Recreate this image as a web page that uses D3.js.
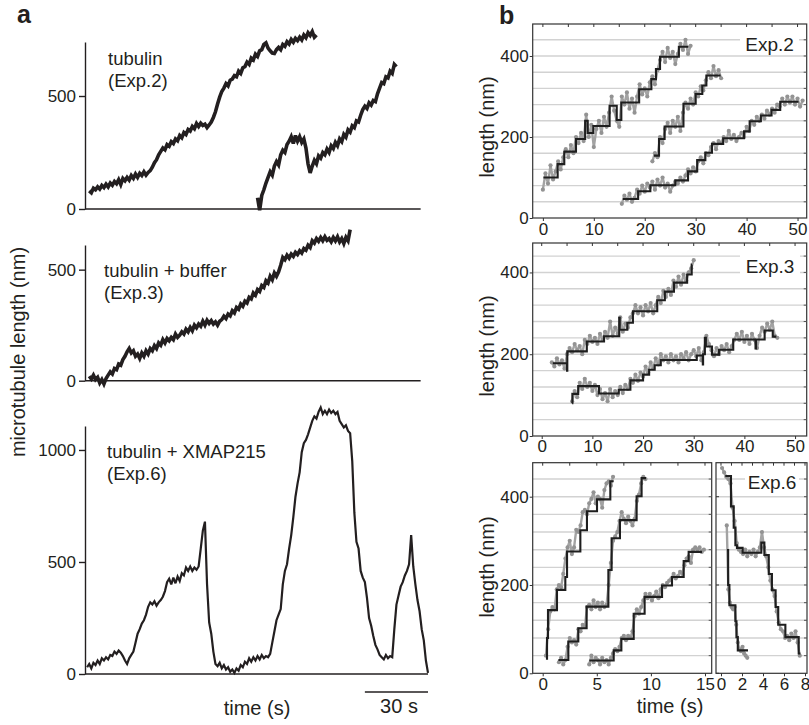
<!DOCTYPE html>
<html><head><meta charset="utf-8">
<script src="https://cdn.jsdelivr.net/npm/d3@7"></script>
<style>
body{margin:0;background:#fff}
svg{display:block}
text{font-family:"Liberation Sans",Arial,Helvetica,sans-serif;fill:#231f20}
</style>
</head><body>
<svg id="c" width="809" height="725"></svg>
<script>
// ---------------- DATA ----------------
// Panel a: microtubule length traces (nm), sampled every 1 s from a start time
const aTrace1Start = 2;
const aTrace1 = [80,72,92,85,98,88,104,95,110,98,115,105,122,112,130,108,135,125,140,128,148,136,155,140,158,148,165,150,162,170,185,205,218,240,255,270,262,285,278,298,290,310,302,325,315,338,330,352,345,365,355,378,365,380,370,375,360,372,385,405,430,465,495,520,535,555,545,570,575,590,585,610,600,625,630,650,640,668,660,685,675,700,705,728,735,712,700,690,688,705,715,705,728,720,740,730,750,738,755,745,760,748,770,758,780,768,785,760,770];
const aTrace2Start = 82;
const aTrace2 = [50,-5,60,85,115,140,165,150,190,210,195,240,260,250,285,300,320,290,325,300,320,295,310,270,200,160,190,215,200,235,225,250,240,265,250,280,268,295,280,310,298,330,318,350,340,368,360,390,385,415,440,455,445,470,460,480,475,510,535,560,555,585,580,610,600,640,630];
const aTrace3Start = 2;
const aTrace3 = [20,8,25,5,15,-10,5,-15,10,25,40,30,55,50,75,70,95,110,130,145,125,135,110,120,100,125,110,135,120,145,135,158,145,170,160,185,170,190,180,195,185,210,195,205,220,210,232,220,240,225,250,238,255,245,268,250,272,258,270,255,265,250,268,275,290,280,300,292,315,305,330,322,345,335,358,350,375,368,395,385,410,402,428,420,450,440,470,455,485,470,490,520,555,545,565,552,570,560,578,568,585,575,595,588,610,600,630,620,640,628,645,630,648,632,640,625,645,630,648,625,640,618,645,630,680];
const aTrace4Start = 1;
const aTrace4 = [30,45,25,50,40,60,45,70,60,75,65,85,80,100,90,105,95,80,60,45,70,85,100,140,180,200,225,240,265,300,320,310,325,305,320,330,345,370,410,425,400,430,405,435,415,450,440,475,460,480,460,475,465,480,560,640,680,400,230,180,100,45,35,50,25,40,20,30,10,20,5,25,15,40,30,55,45,70,55,75,60,80,65,85,70,80,75,90,140,190,240,265,290,400,460,490,560,620,700,790,850,900,990,1030,1045,1070,1100,1130,1150,1140,1170,1190,1160,1175,1160,1180,1165,1175,1160,1170,1130,1115,1100,1110,1085,1075,950,720,590,560,460,430,410,340,250,215,170,130,110,85,75,65,85,70,80,75,200,310,350,390,410,440,460,490,620,480,400,330,280,200,150,60,5];
const aDt = 1;
const aLabels = [["tubulin","(Exp.2)"],["tubulin + buffer","(Exp.3)"],["tubulin + XMAP215","(Exp.6)"]];
const aYTicks = [[0,500],[0,500],[0,500,1000]];
const aScaleBarSec = 30;

// Panel b: raw (gray) samples [start, step, values] and fitted steps [time, level]
const gB2a = [0,0.5,[70,110,85,130,95,115,140,120,150,170,150,180,160,200,185,210,190,255,200,230,175,220,240,210,250,225,260,300,265,240,225,300,280,310,270,295,260,300,330,305,320,300,335,350,330,365,390,410,385,420,395,410,380,405,430,415,440,405,425]];
const gB2b = [21.5,0.5,[140,160,150,200,185,220,235,210,240,225,250,215,260,285,270,295,280,310,300,325,315,340,360,345,375,350,365,345]];
const gB2c = [15.5,0.5,[35,55,45,60,40,50,70,60,80,65,85,75,90,70,95,80,100,75,85,65,80,90,85,100,90,105,120,110,125,115,140,150,135,160,155,175,185,170,190,185,200,190,215,195,205,190,200,210,200,225,215,240,230,250,240,255,245,265,255,270,260,280,275,295,280,300,285,300,280,295,275,290]];
const sB2a = [[0.1,100],[2.9,133],[4.2,164],[6.5,195],[8.3,240],[8.8,210],[9.9,227],[13.1,277],[14.5,242],[15.4,285],[18.9,318],[21.3,343],[22.2,368],[23.0,398],[26.7,423],[28.6,423]];
const sB2b = [[21.8,154],[22.8,195],[23.9,226],[27.6,282],[30.0,306],[31.3,327],[32.1,352],[34.9,352]];
const sB2c = [[15.7,47],[18.7,66],[21.1,81],[26.0,93],[28.5,115],[30.3,143],[31.9,161],[33.2,183],[35.4,197],[39.5,214],[40.6,239],[42.8,253],[44.9,267],[46.6,287],[50.2,287]];

const gB3a = [2,0.5,[180,170,190,175,185,165,200,215,205,225,210,220,200,235,225,245,230,240,225,250,235,255,240,280,245,265,250,290,255,275,265,290,300,320,300,315,295,320,305,325,300,320,340,325,355,340,360,345,380,365,390,370,395,380,400,410,430]];
const gB3b = [6,0.5,[85,110,95,130,115,140,120,130,110,125,100,115,90,105,85,115,95,110,100,120,105,125,115,140,130,150,135,155,145,170,155,180,165,190,175,200,185,195,180,200,185,195,180,200,190,205,185,200,210,195,215,185,205,245,225,210,195,215,200,220,210,225,205,220,235,250,235,255,230,245,225,250,235,215,245,265,255,275,260,280,245,240]];
const sB3a = [[2.2,178],[5.0,160],[5.05,207],[8.9,231],[12.3,244],[15.3,289],[15.4,260],[16.9,277],[18.0,305],[22.8,332],[24.3,353],[26.1,375],[28.7,395],[29.6,419],[29.7,419]];
const sB3b = [[6.0,80],[6.05,103],[7.2,122],[11.3,104],[15.2,113],[17.5,136],[20.0,150],[21.2,162],[22.3,173],[23.5,186],[30.6,197],[31.8,175],[31.85,200],[32.2,240],[32.4,219],[33.6,199],[35.0,211],[37.8,236],[42.2,214],[42.3,236],[44.0,258],[45.6,243],[46.3,243]];

const gB6a = [0.3,0.2,[40,100,140,150,145,190,200,195,225,260,285,300,270,285,325,320,335,365,370,360,385,395,410,385,400,395,375,415,430,435,425,445]];
const gB6b = [1.5,0.2,[25,35,20,30,60,80,70,75,65,100,95,110,105,150,155,145,165,150,160,145,160,150,155,200,250,300,310,320,345,365,350,340,355,345,335,350,390,405,430,445,440]];
const gB6c = [4.3,0.2,[20,40,25,35,30,20,35,25,30,20,35,45,55,50,60,80,85,75,85,80,95,130,145,135,150,165,180,170,180,165,175,185,170,190,200,195,205,210,215,225,215,220,230,225,245,260,265,250,280,285,280,285,275,280]];
const sB6a = [[0.3,33],[0.4,80],[0.49,143],[1.32,189],[2.09,218],[2.25,276],[3.48,324],[4.09,367],[5.02,394],[6.25,435],[6.56,435]];
const sB6b = [[1.45,30],[2.37,72],[3.29,102],[4.06,151],[6.07,234],[6.37,306],[7.14,347],[8.68,401],[9.14,442],[9.55,442]];
const sB6c = [[4.31,29],[6.56,52],[7.27,78],[8.41,135],[9.42,173],[11.03,199],[11.95,218],[13.03,254],[13.49,275],[14.72,275]];

const gB6d = [0.1,0.2,[465,455,445,440,430,375,345,295,280,275,270,280,265,275,270,280,265,275,285,320,285,265,240,210,190,175,140,115,100,95,80,85,75,90,80,95,70,40]];
const gB6e = [0.55,0.15,[335,190,160,150,145,150,110,70,55,50,60,45,40,35]];
const sB6d = [[0.41,447],[0.95,378],[1.21,330],[1.37,290],[1.52,284],[2.06,273],[3.84,296],[4.13,268],[4.55,225],[4.85,188],[5.2,150],[5.45,110],[6.13,82],[7.4,45],[7.56,45]];
const sB6e = [[0.57,279],[0.68,200],[0.8,154],[1.37,118],[1.47,82],[1.6,52],[2.57,52]];

const bXTicks = [[0,10,20,30,40,50],[0,10,20,30,40,50],[0,5,10,15],[0,2,4,6,8]];
const bYTicks = [0,200,400];
const bGrid = [40,80,120,160,200,240,280,320,360,400,440];
const bExp = ["Exp.2","Exp.3","Exp.6"];

// ---------------- DRAW ----------------
const ink = "#231f20";
const FF = '"Liberation Sans",Arial,sans-serif';
const svg = d3.select("#c");
const toPts = (t0, dt, vals) => vals.map((v,i)=>({t:t0+i*dt, v}));

// ---- panel a ----
svg.append("text").attr("x",17).attr("y",23).attr("font-size",25).attr("font-weight","bold").text("a");
const xA = d3.scaleLinear().domain([0,163]).range([85,428]);
const aPanels = [
  {y:d3.scaleLinear().domain([0,739]).range([209,42]), xEnd:159.5, traces:[[aTrace1Start,aTrace1],[aTrace2Start,aTrace2]], lx:108, ly:65, sw:3.6},
  {y:d3.scaleLinear().domain([0,611]).range([380.7,245]), xEnd:159.5, traces:[[aTrace3Start,aTrace3]], lx:104, ly:277, sw:3.6},
  {y:d3.scaleLinear().domain([0,1107]).range([674,426]), xEnd:163, traces:[[aTrace4Start,aTrace4]], lx:107, ly:458, sw:2.2}
];
aPanels.forEach((p,i)=>{
  const g = svg.append("g");
  const ax = g.append("g").attr("transform","translate(85,0)")
    .call(d3.axisLeft(p.y).tickValues(aYTicks[i]).tickFormat(d3.format("d")).tickSize(6).tickPadding(3).tickSizeOuter(0));
  ax.selectAll("path,line").attr("stroke",ink).attr("stroke-width",1.4);
  ax.selectAll("text").attr("font-size",17).attr("fill",ink).style("font-family",FF);
  g.append("line").attr("x1",xA(0)).attr("x2",xA(p.xEnd)).attr("y1",p.y(0)).attr("y2",p.y(0))
    .attr("stroke",ink).attr("stroke-width",1.4);
  const line = d3.line().x(d=>xA(d.t)).y(d=>p.y(d.v));
  p.traces.forEach(([t0,vals])=>{
    g.append("path").datum(toPts(t0,aDt,vals)).attr("d",line).attr("fill","none")
      .attr("stroke",ink).attr("stroke-width",p.sw).attr("stroke-linejoin","miter").attr("stroke-miterlimit",3);
  });
  aLabels[i].forEach((s,k)=>{
    g.append("text").attr("x",p.lx).attr("y",p.ly+k*21.5).attr("font-size",18.5).text(s);
  });
});
svg.append("text").attr("transform","translate(25,352) rotate(-90)").attr("text-anchor","middle")
  .attr("font-size",20).text("microtubule length (nm)");
svg.append("text").attr("x",257).attr("y",715).attr("text-anchor","middle").attr("font-size",20).text("time (s)");
svg.append("line").attr("x1",xA(163)-(xA(aScaleBarSec)-xA(0))).attr("x2",xA(163)).attr("y1",692).attr("y2",692)
  .attr("stroke",ink).attr("stroke-width",1.6);
svg.append("text").attr("x",399).attr("y",713).attr("text-anchor","middle").attr("font-size",20).text(aScaleBarSec+" s");

// ---- panel b ----
svg.append("text").attr("x",499).attr("y",24).attr("font-size",25).attr("font-weight","bold").text("b");
const bPanels = [
  {x:d3.scaleLinear().domain([-2,51.8]).range([532.7,806.7]), y:d3.scaleLinear().domain([0,479]).range([218,24]),
   gray:[gB2a,gB2b,gB2c], steps:[sB2a,sB2b,sB2c], xt:bXTicks[0], minor:5, ylab:127, exp:bExp[0], ex:[740,799,31,55], ety:50.5, xtp:2},
  {x:d3.scaleLinear().domain([-1.78,52.3]).range([532.7,806.7]), y:d3.scaleLinear().domain([0,472]).range([436,243]),
   gray:[gB3a,gB3b], steps:[sB3a,sB3b], xt:bXTicks[1], minor:5, ylab:346, exp:bExp[1], ex:[740,800,253,279], ety:273, xtp:1},
  {x:d3.scaleLinear().domain([-0.924,15.62]).range([532.7,711.7]), y:d3.scaleLinear().domain([0,477]).range([673.3,462.7]),
   gray:[gB6a,gB6b,gB6c], steps:[sB6a,sB6b,sB6c], xt:bXTicks[2], minor:2.5, ylab:567, exp:null, xtp:2},
  {x:d3.scaleLinear().domain([-0.476,8.19]).range([716,807]), y:d3.scaleLinear().domain([0,477]).range([673.3,462.7]),
   gray:[gB6d,gB6e], steps:[sB6d,sB6e], xt:bXTicks[3], minor:1, ylab:null, exp:bExp[2], ex:[745,799,468,493], ety:488.5, xtp:2}
];
bPanels.forEach(p=>{
  const g = svg.append("g");
  const [x0,x1] = p.x.range(), [yb,yt] = p.y.range();
  // gridlines
  g.selectAll("line.grid").data(bGrid.filter(v=>p.y(v)>yt+1)).join("line")
    .attr("x1",x0).attr("x2",x1).attr("y1",d=>p.y(d)).attr("y2",d=>p.y(d))
    .attr("stroke","#d2d2d2").attr("stroke-width",1.4);
  // raw data
  const line = d3.line().x(d=>p.x(d.t)).y(d=>p.y(d.v));
  p.gray.forEach(([t0,dt,vals])=>{
    const pts = toPts(t0,dt,vals);
    g.append("path").datum(pts).attr("d",line).attr("fill","none").attr("stroke","#a3a3a3").attr("stroke-width",2.4).attr("stroke-linejoin","round");
    g.selectAll(null).data(pts).join("circle").attr("cx",d=>p.x(d.t)).attr("cy",d=>p.y(d.v)).attr("r",2.1).attr("fill","#939393");
  });
  // step fits
  const sline = d3.line().x(d=>p.x(d[0])).y(d=>p.y(d[1])).curve(d3.curveStepAfter);
  p.steps.forEach(s=>{
    g.append("path").datum(s).attr("d",sline).attr("fill","none").attr("stroke","#1e1e1e").attr("stroke-width",2.1);
  });
  // box
  g.append("rect").attr("x",x0).attr("y",yt).attr("width",x1-x0).attr("height",yb-yt)
    .attr("fill","none").attr("stroke","#333").attr("stroke-width",1.2);
  // minor ticks
  const mt = d3.range(Math.ceil(p.x.domain()[0]/p.minor)*p.minor, p.x.domain()[1], p.minor);
  g.selectAll(null).data(mt).join("line").attr("x1",d=>p.x(d)).attr("x2",d=>p.x(d)).attr("y1",yt).attr("y2",yt+3)
    .attr("stroke","#333").attr("stroke-width",1);
  g.selectAll(null).data(bGrid.filter(v=>p.y(v)>yt+1)).join("line").attr("x1",x1-3).attr("x2",x1)
    .attr("y1",d=>p.y(d)).attr("y2",d=>p.y(d)).attr("stroke","#555").attr("stroke-width",1);
  // axes
  const xa = g.append("g").attr("transform",`translate(0,${yb})`)
    .call(d3.axisBottom(p.x).tickValues(p.xt).tickSize(3).tickPadding(p.xtp));
  xa.select(".domain").remove();
  xa.selectAll("line").attr("stroke","#333");
  xa.selectAll("text").attr("font-size",17).attr("fill",ink).style("font-family",FF);
  if(p.ylab){
    const ya = g.append("g").attr("transform",`translate(${x0},0)`)
      .call(d3.axisLeft(p.y).tickValues(bYTicks).tickSize(3).tickPadding(1));
    ya.select(".domain").remove();
    ya.selectAll("line").attr("stroke","#333");
    ya.selectAll("text").attr("font-size",17).attr("fill",ink).style("font-family",FF);
    g.append("text").attr("transform",`translate(494,${p.ylab}) rotate(-90)`).attr("text-anchor","middle")
      .attr("font-size",20).text("length (nm)");
  } else {
    g.selectAll(null).data(bYTicks).join("line").attr("x1",x0).attr("x2",x0+3)
      .attr("y1",d=>p.y(d)).attr("y2",d=>p.y(d)).attr("stroke","#333");
  }
  if(p.exp){
    g.append("rect").attr("x",p.ex[0]).attr("y",p.ex[2]).attr("width",p.ex[1]-p.ex[0]).attr("height",p.ex[3]-p.ex[2]).attr("fill","#fff");
    g.append("text").attr("x",(p.ex[0]+p.ex[1])/2).attr("y",p.ety).attr("text-anchor","middle").attr("font-size",19).text(p.exp);
  }
});
svg.append("text").attr("x",670).attr("y",713).attr("text-anchor","middle").attr("font-size",20).text("time (s)");
</script>
</body></html>
